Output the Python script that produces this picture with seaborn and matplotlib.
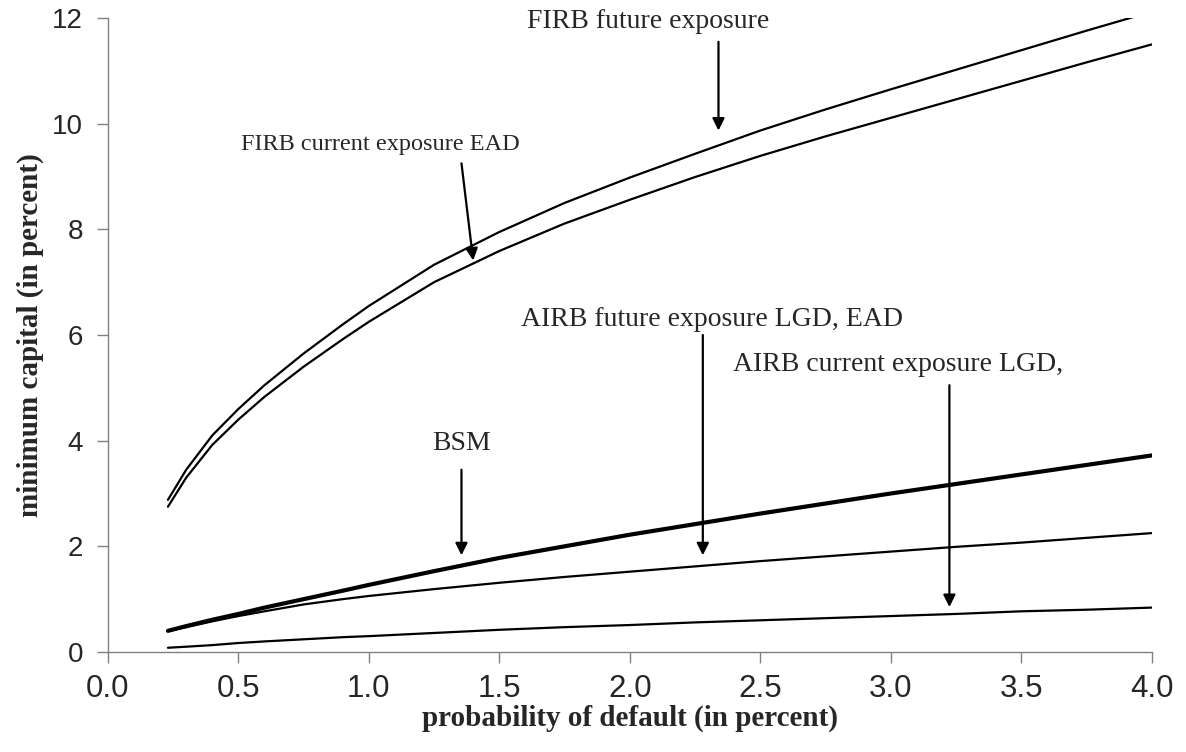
import numpy as np
import pandas as pd
import matplotlib
matplotlib.use("Agg")
import matplotlib.pyplot as plt
import seaborn as sns

# probability of default (in percent)
pd_x = [0.23, 0.3, 0.4, 0.5, 0.6, 0.75, 0.9, 1.0, 1.25, 1.5, 1.75, 2.0,
        2.25, 2.5, 2.75, 3.0, 3.25, 3.5, 3.75, 4.0]

# minimum capital (in percent)
firb_future = [2.88, 3.45, 4.1, 4.6, 5.05, 5.65, 6.2, 6.55, 7.33, 7.95, 8.5,
               8.98, 9.43, 9.87, 10.27, 10.65, 11.02, 11.39, 11.76, 12.12]
firb_current = [2.75, 3.3, 3.92, 4.4, 4.83, 5.4, 5.92, 6.25, 7.0, 7.59, 8.11,
                8.56, 8.99, 9.39, 9.76, 10.11, 10.46, 10.81, 11.16, 11.5]
bsm = [0.4, 0.49, 0.61, 0.72, 0.84, 1.0, 1.16, 1.27, 1.53, 1.78, 2.0, 2.22,
       2.42, 2.62, 2.81, 3.0, 3.18, 3.36, 3.54, 3.72]
airb_future = [0.4, 0.47, 0.58, 0.68, 0.77, 0.9, 1.0, 1.06, 1.19, 1.31, 1.42,
               1.52, 1.62, 1.72, 1.81, 1.9, 1.99, 2.07, 2.16, 2.25]
airb_current = [0.08, 0.1, 0.13, 0.17, 0.2, 0.24, 0.28, 0.3, 0.36, 0.42, 0.47,
                0.51, 0.56, 0.6, 0.64, 0.68, 0.72, 0.77, 0.8, 0.84]

series = {
    "FIRB future": (firb_future, 1.6),
    "FIRB current": (firb_current, 1.6),
    "BSM": (bsm, 3.0),
    "AIRB future": (airb_future, 1.6),
    "AIRB current": (airb_current, 1.6),
}

sns.set_style("ticks")
plt.rcParams["font.family"] = ["Liberation Sans", "DejaVu Sans"]

fig = plt.figure(figsize=(11.86, 7.52), dpi=100)
ax = fig.add_axes([0.091, 0.133, 0.880, 0.843])

for name, (vals, lw) in series.items():
    df = pd.DataFrame({"x": pd_x, "y": vals})
    sns.lineplot(data=df, x="x", y="y", ax=ax, color="black", linewidth=lw)

ax.set_xlim(0, 4)
ax.set_ylim(0, 12)
ax.set_xticks(np.arange(0, 4.01, 0.5))
ax.set_xticklabels([f"{v:.1f}" for v in np.arange(0, 4.01, 0.5)])
ax.set_yticks(range(0, 13, 2))
ax.tick_params(axis="both", direction="out", length=8, width=1,
               color="#808080")
ax.tick_params(axis="x", labelsize=22.5, pad=8)
ax.tick_params(axis="y", labelsize=20, pad=10)
for s in ["left", "bottom"]:
    ax.spines[s].set_color("#808080")
    ax.spines[s].set_linewidth(1)
sns.despine(ax=ax)

serif = ["Liberation Serif", "DejaVu Serif"]
ax.set_xlabel("probability of default (in percent)", fontsize=21,
              fontweight="bold", family=serif, labelpad=0)
ax.set_ylabel("minimum capital (in percent)", fontsize=21,
              fontweight="bold", family=serif, labelpad=6)

arrow = dict(arrowstyle="-|>", color="black", lw=1.6, mutation_scale=18,
             shrinkA=0, shrinkB=0)

ax.annotate("", xy=(2.34, 9.87), xytext=(2.34, 11.55), arrowprops=arrow)
ax.text(2.07, 11.93, "FIRB future exposure", fontsize=20, family=serif,
        ha="center", va="center")

ax.annotate("", xy=(1.40, 7.41), xytext=(1.355, 9.25), arrowprops=arrow)
ax.text(1.045, 9.6, "FIRB current exposure EAD", fontsize=17.5,
        family=serif, ha="center", va="center")

ax.annotate("", xy=(2.28, 1.83), xytext=(2.28, 6.0), arrowprops=arrow)
ax.text(2.315, 6.3, "AIRB future exposure LGD, EAD", fontsize=20,
        family=serif, ha="center", va="center")

ax.annotate("", xy=(1.355, 1.83), xytext=(1.355, 3.45), arrowprops=arrow)
ax.text(1.355, 3.95, "BSM", fontsize=20, family=serif, ha="center",
        va="center")

ax.annotate("", xy=(3.225, 0.85), xytext=(3.225, 5.05), arrowprops=arrow)
ax.text(3.03, 5.45, "AIRB current exposure LGD,", fontsize=20,
        family=serif, ha="center", va="center")

fig.savefig("out.png", dpi=100, facecolor="white")
